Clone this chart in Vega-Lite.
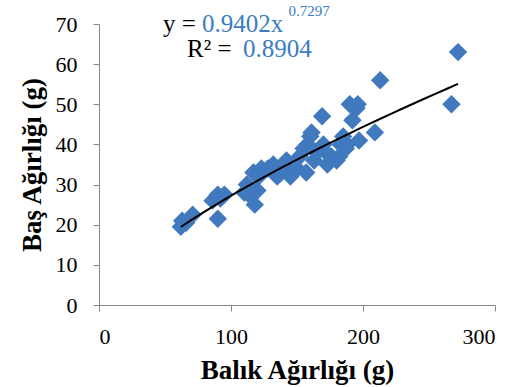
{
  "$schema": "https://vega.github.io/schema/vega-lite/v6.json",
  "autosize": "none",
  "width": 396,
  "height": 281,
  "padding": {"left": 99, "top": 24, "right": 28, "bottom": 82},
  "background": "white",
  "config": {
    "font": "Times New Roman, serif",
    "view": {"stroke": null},
    "axis": {
      "grid": false,
      "domainColor": "#868686",
      "tickColor": "#868686",
      "tickSize": 6,
      "labelFont": "Times New Roman, serif",
      "labelFontSize": 22,
      "labelColor": "#000000",
      "titleFont": "Times New Roman, serif",
      "titleFontSize": 27,
      "titleFontWeight": "bold",
      "titleColor": "#000000"
    }
  },
  "data": {
    "values": [
      {"fish": 62, "head": 19.5}, {"fish": 63, "head": 21}, {"fish": 66, "head": 20.5}, {"fish": 71, "head": 22.5},
      {"fish": 86, "head": 26}, {"fish": 90, "head": 27.5}, {"fish": 92, "head": 26.5}, {"fish": 90, "head": 21.5},
      {"fish": 95, "head": 27.5}, {"fish": 110, "head": 28}, {"fish": 112, "head": 30}, {"fish": 115, "head": 27},
      {"fish": 117, "head": 33}, {"fish": 118, "head": 25}, {"fish": 120, "head": 28.5}, {"fish": 121, "head": 32},
      {"fish": 123, "head": 34}, {"fish": 128, "head": 34}, {"fish": 132, "head": 35}, {"fish": 135, "head": 32},
      {"fish": 138, "head": 33}, {"fish": 140, "head": 35}, {"fish": 142, "head": 36}, {"fish": 145, "head": 32},
      {"fish": 147, "head": 33}, {"fish": 150, "head": 34}, {"fish": 152, "head": 37}, {"fish": 155, "head": 39},
      {"fish": 157, "head": 33}, {"fish": 158, "head": 40}, {"fish": 160, "head": 42}, {"fish": 161, "head": 43},
      {"fish": 163, "head": 36}, {"fish": 165, "head": 38}, {"fish": 169, "head": 47}, {"fish": 170, "head": 40},
      {"fish": 172, "head": 38}, {"fish": 173, "head": 35}, {"fish": 176, "head": 37}, {"fish": 180, "head": 36},
      {"fish": 182, "head": 37}, {"fish": 183, "head": 40}, {"fish": 185, "head": 42}, {"fish": 187, "head": 39},
      {"fish": 188, "head": 40}, {"fish": 190, "head": 50}, {"fish": 192, "head": 46}, {"fish": 195, "head": 49},
      {"fish": 196, "head": 50}, {"fish": 197, "head": 41}, {"fish": 209, "head": 43}, {"fish": 213, "head": 56},
      {"fish": 267, "head": 50}, {"fish": 272, "head": 63}
    ]
  },
  "layer": [
    {
      "mark": {"type": "point", "shape": "diamond", "filled": true, "size": 340, "color": "#4179be", "opacity": 1},
      "encoding": {
        "x": {"field": "fish", "type": "quantitative", "scale": {"domain": [0, 300], "nice": false},
              "axis": {"values": [0, 100, 200, 300], "title": "Balık Ağırlığı (g)", "labelPadding": 15, "titlePadding": 10}},
        "y": {"field": "head", "type": "quantitative", "scale": {"domain": [0, 70], "nice": false},
              "axis": {"values": [0, 10, 20, 30, 40, 50, 60, 70], "title": "Baş Ağırlığı (g)", "labelPadding": 16, "titlePadding": 9}}
      }
    },
    {
      "transform": [{"regression": "head", "on": "fish", "method": "pow", "extent": [62, 272]}],
      "mark": {"type": "line", "color": "#000000", "strokeWidth": 2},
      "encoding": {
        "x": {"field": "fish", "type": "quantitative"},
        "y": {"field": "head", "type": "quantitative"}
      }
    },
    {
      "data": {"values": [{"x": 48.5, "y": 67.9, "t": "y ="}, {"x": 66.7, "y": 61.8, "t": "R² ="}]},
      "mark": {"type": "text", "align": "left", "baseline": "alphabetic", "font": "Times New Roman, serif", "fontSize": 25, "color": "#000000"},
      "encoding": {
        "x": {"field": "x", "type": "quantitative"},
        "y": {"field": "y", "type": "quantitative"},
        "text": {"field": "t"}
      }
    },
    {
      "data": {"values": [{"x": 78, "y": 67.9, "t": "0.9402x"}, {"x": 109, "y": 61.8, "t": "0.8904"}]},
      "mark": {"type": "text", "align": "left", "baseline": "alphabetic", "font": "Times New Roman, serif", "fontSize": 25, "color": "#3b7cc3"},
      "encoding": {
        "x": {"field": "x", "type": "quantitative"},
        "y": {"field": "y", "type": "quantitative"},
        "text": {"field": "t"}
      }
    },
    {
      "data": {"values": [{"x": 143.5, "y": 72.1, "t": "0.7297"}]},
      "mark": {"type": "text", "align": "left", "baseline": "alphabetic", "font": "Times New Roman, serif", "fontSize": 15, "color": "#3b7cc3"},
      "encoding": {
        "x": {"field": "x", "type": "quantitative"},
        "y": {"field": "y", "type": "quantitative"},
        "text": {"field": "t"}
      }
    }
  ]
}
